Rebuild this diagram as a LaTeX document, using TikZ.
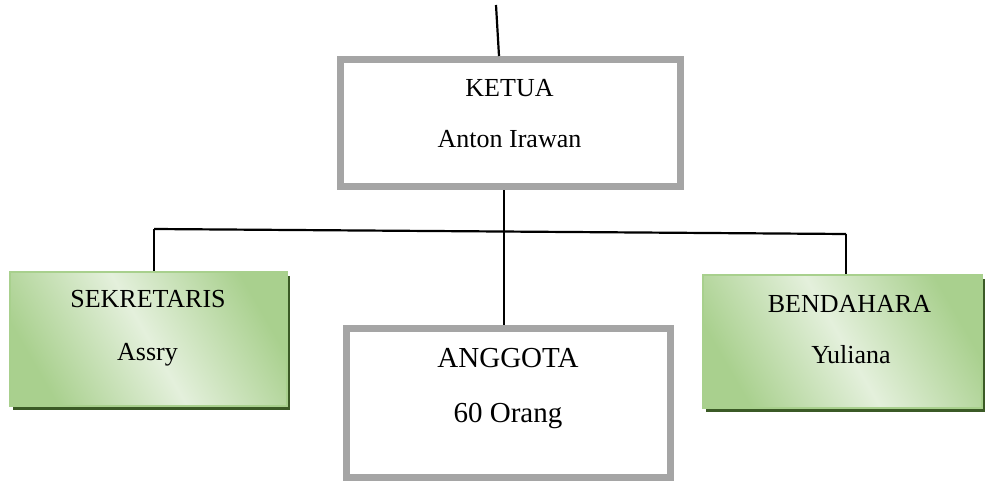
\documentclass[tikz,border=0pt]{standalone}
\usepackage{fontspec}
\setmainfont{Liberation Serif}
\usetikzlibrary{shadows}
\definecolor{boxgray}{HTML}{A5A5A5}
\definecolor{gdark}{HTML}{A9D08E}
\definecolor{glight}{HTML}{E4F0DC}
\definecolor{gborder}{HTML}{A8D08D}
\definecolor{gshadow}{HTML}{3B5A26}
\tikzset{
  graybox/.style={draw=boxgray, line width=7pt, fill=white, rectangle, inner sep=0pt},
  greenbox/.style={rectangle, inner sep=0pt, draw=gborder, line width=1.5pt,
    top color=gdark, bottom color=gdark, middle color=glight, shading angle=-60,
    general shadow={fill=gshadow, shadow xshift=3pt, shadow yshift=-4pt}},
  conn/.style={draw=black, line width=2.2pt},
  lbl/.style={anchor=base, inner sep=0pt, font=\fontsize{26}{30}\selectfont},
  lblbig/.style={anchor=base, inner sep=0pt, font=\fontsize{29}{34}\selectfont},
}
\begin{document}
\begin{tikzpicture}[x=1pt, y=-1pt]
\useasboundingbox (0,0) rectangle (987,481);
% boxes
\node[graybox, minimum width=340pt, minimum height=127.5pt] (ketua) at (510.5,123.25) {};
\node[graybox, minimum width=324pt, minimum height=149pt] (anggota) at (508.5,402.5) {};
\node[greenbox, minimum width=277pt, minimum height=134pt] (sekretaris) at (148.5,339) {};
\node[greenbox, minimum width=279pt, minimum height=133pt] (bendahara) at (842.5,341.5) {};
% texts
\node[lbl] (t1) at (509.5,97) {KETUA};
\node[lbl] (t2) at (509.5,148) {Anton Irawan};
\node[lblbig] (t3) at (508,367) {ANGGOTA};
\node[lblbig] (t4) at (508,422) {60 Orang};
\node[lbl] (t5) at (148,307) {SEKRETARIS};
\node[lbl] (t6) at (147.5,360) {Assry};
\node[lbl] (t7) at (849.5,312) {BENDAHARA};
\node[lbl] (t8) at (851,363) {Yuliana};
% connectors
\coordinate (top) at (496,5);
\coordinate (ktop) at (499,56);
\coordinate (hl) at (154,229);
\coordinate (hr) at (846,234);
\coordinate (hm) at (504,231.5);
\draw[conn] (top) -- (ktop);
\draw[conn] (ketua.south -| hm) -- (anggota.north -| hm);
\draw[conn] (hl) -- (hr);
\draw[conn] (hl) -- (sekretaris.north -| hl);
\draw[conn] (hr) -- (bendahara.north -| hr);
\end{tikzpicture}
\end{document}
